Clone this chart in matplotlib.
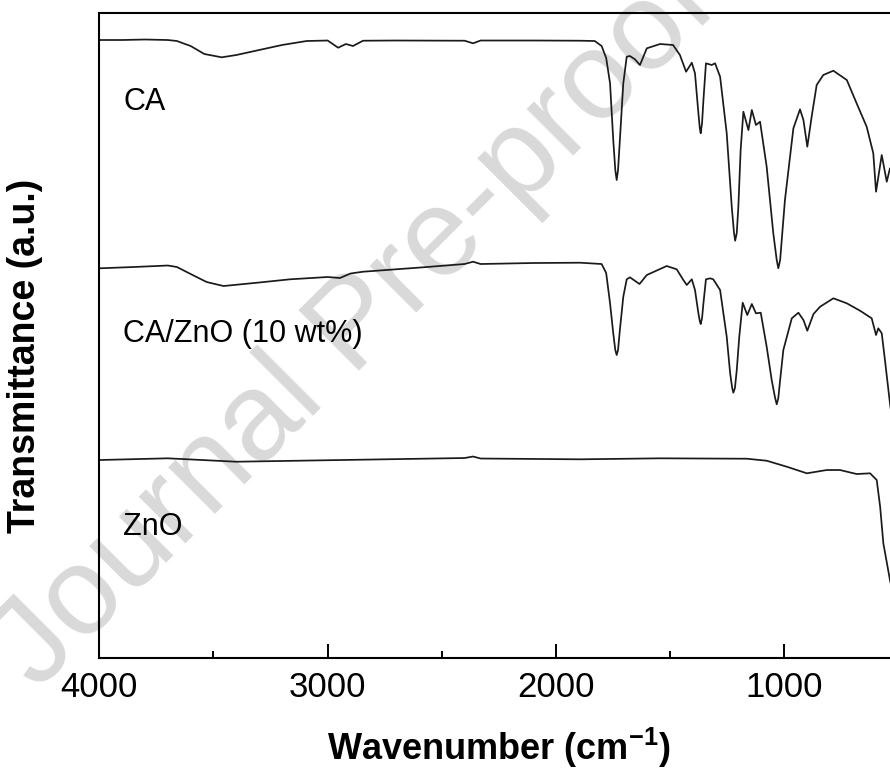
import matplotlib
import matplotlib.pyplot as plt
import numpy as np

matplotlib.rcParams.update({'font.family': ['Liberation Sans', 'DejaVu Sans']})
matplotlib.rcParams.update({'mathtext.fontset': 'custom',
                            'mathtext.rm': 'Liberation Sans',
                            'mathtext.bf': 'Liberation Sans:bold'})

# FTIR spectra: wavenumber (cm-1) and stacked transmittance (a.u.)
wn_ca = [4000, 3900, 3800, 3700, 3660, 3600, 3540, 3464, 3400, 3300, 3200, 3092, 3000,
         2954, 2920, 2889, 2845, 2700, 2400, 2363, 2330, 2100, 1894, 1830, 1800, 1780,
         1763, 1749, 1740, 1734, 1728, 1720, 1705, 1690, 1676, 1654, 1632, 1602, 1544,
         1487, 1457, 1430, 1405, 1391, 1376, 1370, 1366, 1360, 1354, 1343, 1318, 1303,
         1281, 1252, 1230, 1220, 1215, 1208, 1201, 1191, 1179, 1157, 1142, 1124, 1106,
         1077, 1048, 1033, 1026, 1018, 1011, 997, 960, 931, 916, 899, 880, 858, 829, 785,
         726, 683, 639, 610, 598, 573, 551, 537, 520]
t_ca = [618, 618, 618.5, 618, 617, 612, 604, 600.7, 603, 608, 613, 617, 617.5,
        610.3, 614, 612, 617.3, 617.5, 617.3, 614.7, 617.5, 617.5, 617.3, 617, 612, 600,
        574.7, 518, 488, 478, 488, 518, 574.7, 601.3, 602, 598.7, 593, 609.7, 614,
        613, 603, 586.3, 595.3, 584.7, 544.7, 530, 524.7, 535, 558, 594.7, 593, 594.7,
        581.3, 524.7, 451.3, 425, 417.3, 425, 451.3, 508, 546.3, 528, 548, 533, 536.3,
        491.3, 424.7, 398, 389.7, 398, 418, 458, 529.7, 548.7, 538, 511.3, 541.3, 573, 583, 587.3,
        578, 554.7, 531.3, 504.7, 466.3, 503, 476.3, 489.7, 485]

wn_cazno = [4000, 3850, 3700, 3660, 3600, 3530, 3456, 3300, 3165, 3000, 2946, 2900, 2845,
            2582, 2400, 2363, 2330, 2100, 1894, 1800, 1780, 1763, 1749, 1740, 1734, 1728,
            1720, 1705, 1690, 1676, 1634, 1602, 1515, 1471, 1442, 1427, 1405, 1391, 1376,
            1370, 1366, 1360, 1354, 1343, 1325, 1311, 1281, 1252, 1237, 1228, 1223, 1216,
            1208, 1197, 1182, 1162, 1142, 1124, 1103, 1077, 1055, 1040, 1033, 1026, 1018,
            1004, 967, 938, 916, 899, 872, 843, 785, 726, 668, 617, 598, 588, 573, 559, 537,
            520]
t_cazno = [389.7, 391, 392.5, 391, 384, 376, 372, 375.5, 378.7, 381, 380, 384.5, 386.3,
           390.7, 394, 396.3, 394, 395, 395.3, 394, 385, 354.7, 324.7, 308, 303, 308,
           328, 361.3, 378.7, 380.7, 374, 383, 392, 388.7, 378, 373, 378.7, 368, 344.7,
           337, 334, 340, 354.7, 378.7, 379.7, 378.7, 368, 321.3, 284.7, 270, 265.3, 270,
           288, 321.3, 355.3, 343, 354, 344.7, 345.3, 311.3, 278, 260, 253.7, 260, 278,
           308, 339.7, 345.3, 338, 327.3, 344, 351.3, 359.7, 354.7, 347.3, 339.7, 323, 329.7,
           324.7, 298, 254.7, 225]

wn_zno = [4000, 3700, 3400, 2400, 2363, 2330, 1894, 1544, 1164, 1077, 989, 901, 814, 756,
          683, 624, 595, 580, 566, 537, 520]
t_zno = [198, 199.7, 196.3, 200, 201.5, 199.5, 198.7, 199.7, 199.3, 197.3, 191.3, 184.7,
         188, 188, 184, 184.7, 178, 151.3, 114.7, 78, 60]

labels = ['CA', 'CA/ZnO (10 wt%)', 'ZnO']

fig = plt.figure(figsize=(8.9, 7.79), dpi=100)
ax = fig.add_axes([0.1116, 0.1553, 0.9235, 0.828])
ax.patch.set_alpha(0)

# preprint watermark
ax.text(0.40, 0.58, 'Journal Pre-proof', transform=fig.transFigure, rotation=45,
        fontsize=90, color='#d9d9d9', ha='center', va='center', zorder=0.5)

ax.plot(wn_ca, t_ca, color='#1a1a1a', linewidth=1.25)
ax.plot(wn_cazno, t_cazno, color='#1a1a1a', linewidth=1.25)
ax.plot(wn_zno, t_zno, color='#1a1a1a', linewidth=1.25)

ax.text(3896, 548, labels[0], fontsize=22, va='baseline')
ax.text(3896, 316, labels[1], fontsize=22, va='baseline')
ax.text(3896, 123, labels[2], fontsize=22, va='baseline')

ax.set_xlim(4000, 400)
ax.set_ylim(0, 645)
ax.set_xticks([4000, 3000, 2000, 1000])
ax.set_xticks([3500, 2500, 1500, 500], minor=True)
ax.set_yticks([])
ax.tick_params(axis='x', which='major', direction='in', length=10, width=1.4,
               labelsize=25, pad=9)
ax.tick_params(axis='x', which='minor', direction='in', length=5.4, width=1.4)
for s in ax.spines.values():
    s.set_linewidth(1.5)

ax.set_xlabel('Wavenumber (cm$^{\\mathbf{-1}}$)', fontsize=26, fontweight='bold')
ax.xaxis.set_label_coords(0.486, -0.105)
ax.set_ylabel('Transmittance (a.u.)', fontsize=27, fontweight='bold')
ax.yaxis.set_label_coords(-0.068, 0.469)

fig.savefig('out.png', dpi=100)
